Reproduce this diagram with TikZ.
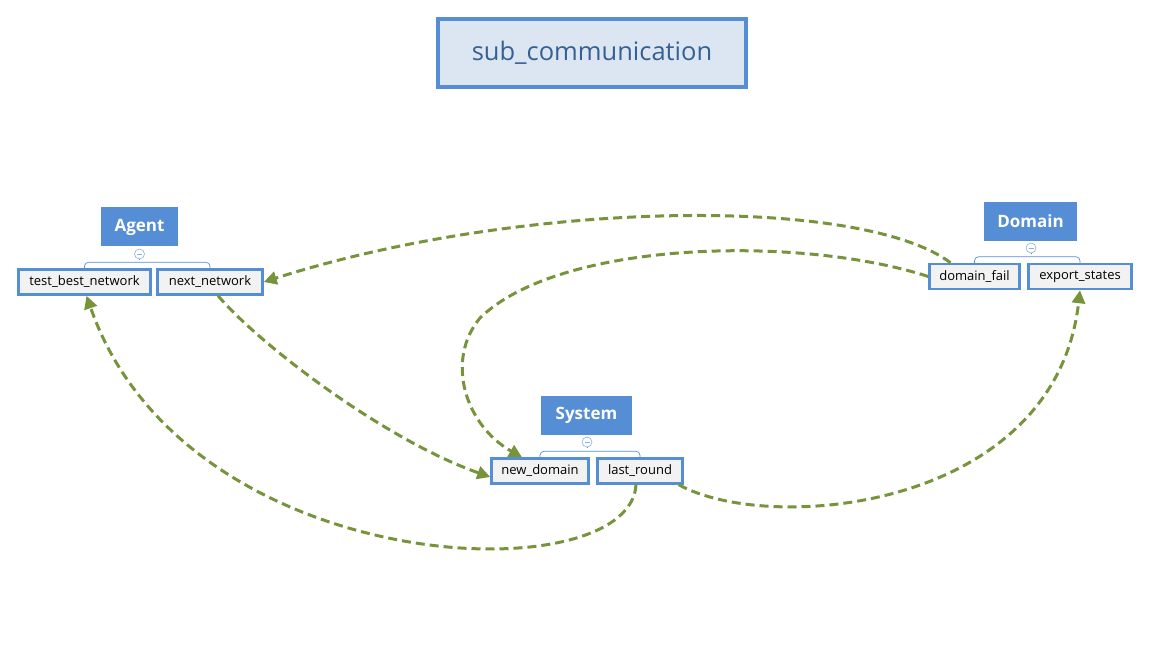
\documentclass[tikz,border=0pt]{standalone}
\usepackage{fontspec}
\setmainfont{Open Sans}
\usetikzlibrary{arrows.meta}
\definecolor{hdblue}{RGB}{85,142,213}
\definecolor{titlefill}{RGB}{220,230,242}
\definecolor{titletext}{RGB}{55,96,146}
\definecolor{itemfill}{RGB}{242,242,242}
\definecolor{linkgreen}{RGB}{119,147,60}
\begin{document}
\begin{tikzpicture}[x=1pt,y=-1pt,
    title/.style={draw=hdblue,line width=4pt,fill=titlefill,text=titletext,minimum width=308pt,minimum height=68pt,font=\fontsize{25.5}{30}\selectfont},
    head/.style={fill=hdblue,text=white,minimum height=39pt,font=\fontsize{17}{20}\selectfont\bfseries},
    item/.style={draw=hdblue,line width=2.5pt,fill=itemfill,minimum height=25pt,inner sep=0pt,font=\fontsize{13}{15}\selectfont},
    fold/.style={draw=hdblue,line width=0.7pt,rounded corners=4pt},
    knob/.style={circle,draw=hdblue!70,fill=white,line width=0.6pt,inner sep=0pt,minimum size=10pt},
    link/.style={draw=linkgreen,line width=3pt,dash pattern=on 9pt off 5pt,-{Triangle[length=13pt,width=13pt]}}]
\useasboundingbox (0,0) rectangle (1151,668);
\node[title] (top) at (592,53) {sub\_communication};
\node[head,minimum width=77pt] (agent) at (139.5,227) {Agent};
\node[item,minimum width=132pt] (tbn) at (84.5,282) {test\_best\_network};
\node[item,minimum width=105pt] (nn) at (210,282) {next\_network};
\node[head,minimum width=93pt] (domain) at (1030.5,221.5) {Domain};
\node[item,minimum width=90pt] (dfail) at (974.5,276.5) {domain\_fail};
\node[item,minimum width=103pt] (export) at (1080,276.5) {export\_states};
\node[head,minimum width=91pt] (system) at (586.5,415.5) {System};
\node[item,minimum width=97pt] (newd) at (540,471) {new\_domain};
\node[item,minimum width=85pt] (last) at (640,471) {last\_round};
% fold markers
\draw[fold] ([yshift=-1pt]tbn.north) -- ++(0,-7) -| ([yshift=-1pt]nn.north);
\node[knob] (ka) at (139.5,254) {};
\draw[fold] (ka) -- ++(0,6);
\draw[fold] ([yshift=-1pt]dfail.north) -- ++(0,-7) -| ([yshift=-1pt]export.north);
\node[knob] (kd) at (1031,248) {};
\draw[fold] (kd) -- ++(0,6);
\draw[fold] ([yshift=-1pt]newd.north) -- ++(0,-7) -| ([yshift=-1pt]last.north);
\node[knob] (ks) at (587,442) {};
\draw[fold] (ks) -- ++(0,6);
\foreach \k in {ka,kd,ks} \draw[hdblue!70,line width=0.6pt] ([xshift=-2.5pt]\k.center) -- ([xshift=2.5pt]\k.center);
% links
\draw[link] ([xshift=-24pt]dfail.north) .. controls (860,195) and (520,200) .. (nn.east);
\draw[link] (dfail.west) .. controls (800,235) and (560,240) .. (480,318) .. controls (445,360) and (465,425) .. ([xshift=-18pt]newd.north);
\draw[link] ([xshift=8pt]nn.south) .. controls (260,345) and (385,440) .. ([yshift=-6pt]newd.west);
\draw[link] ([xshift=-4pt]last.south) .. controls (630,595) and (185,580) .. ([xshift=2pt]tbn.south);
\draw[link] ([xshift=-5pt]last.south east) .. controls (770,535) and (1055,510) .. (export.south);
\end{tikzpicture}
\end{document}
